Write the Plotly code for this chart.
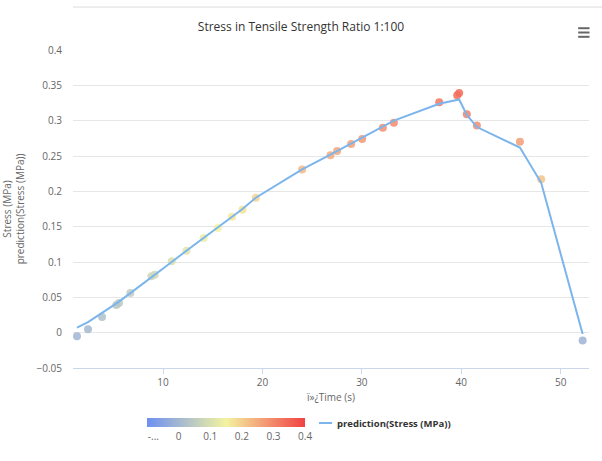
import plotly.graph_objects as go

time_s = [1.34, 2.45, 3.86, 5.30, 5.57, 6.71, 8.83, 9.16, 10.87, 12.35, 14.09, 15.50, 16.94, 17.99, 19.33,
          23.99, 26.84, 27.51, 28.92, 30.03, 32.11, 33.22, 37.78, 39.59, 39.79, 40.56, 41.57, 45.90, 48.04, 52.21]
stress = [-0.005, 0.005, 0.022, 0.039, 0.042, 0.056, 0.080, 0.082, 0.101, 0.116, 0.134, 0.148, 0.164, 0.174, 0.191,
          0.231, 0.251, 0.257, 0.267, 0.274, 0.290, 0.297, 0.326, 0.336, 0.339, 0.309, 0.293, 0.270, 0.217, -0.011]
prediction = [0.007, 0.015, 0.028, 0.041, 0.044, 0.056, 0.078, 0.082, 0.100, 0.116, 0.134, 0.149, 0.163, 0.175, 0.191,
              0.231, 0.252, 0.257, 0.267, 0.276, 0.291, 0.300, 0.324, 0.329, 0.330, 0.308, 0.291, 0.262, 0.212, -0.002]

cbar_tickvals = [-0.08, 0, 0.1, 0.2, 0.3, 0.4]
cbar_ticktext = ["-...", "0", "0.1", "0.2", "0.3", "0.4"]
y_ticks = [-0.05, 0, 0.05, 0.1, 0.15, 0.2, 0.25, 0.3, 0.35, 0.4]
x_ticks = [10, 20, 30, 40, 50]
line_name = "prediction(Stress (MPa))"

FONT = "Open Sans, Noto Sans, sans-serif"
LINE_COLOR = "#7cb5ec"
colorscale = [[0, "#6d8ff2"], [0.5, "#f3f3a0"], [0.8, "#f3876a"], [1, "#f04242"]]

fig = go.Figure()
fig.add_trace(go.Scatter(
    x=time_s, y=stress, mode="markers", name="Stress (MPa)", showlegend=False,
    marker=dict(size=8, color=stress, colorscale=colorscale, cmin=-0.1, cmax=0.4, opacity=0.85,
                line=dict(width=0),
                colorbar=dict(orientation="h", x=0.1436, xanchor="left", y=-0.157, yanchor="top",
                              lenmode="pixels", len=158, thickness=9, outlinewidth=0,
                              tickvals=cbar_tickvals, ticktext=cbar_ticktext, ticks="",
                              tickfont=dict(size=10, color="#666666", family=FONT),
                              ypad=0, xpad=0)),
))
fig.add_trace(go.Scatter(
    x=time_s, y=prediction, mode="lines", name=line_name, showlegend=False,
    line=dict(color=LINE_COLOR, width=2),
))

fig.update_layout(
    width=602, height=461,
    margin=dict(l=73, r=13, t=50, b=93),
    paper_bgcolor="white", plot_bgcolor="white",
    font=dict(family=FONT, color="#666666", size=10),
    title=dict(text="Stress in Tensile Strength Ratio 1:100", x=0.5, xanchor="center", y=0.942, yanchor="middle",
               font=dict(size=12, color="#333333", family=FONT)),
    xaxis=dict(range=[0.94, 52.85], tickvals=x_ticks, showgrid=False, zeroline=False, automargin=False,
               showline=True, linecolor="#ccd6eb", linewidth=1, ticks="outside", ticklen=5, tickcolor="#ccd6eb",
               tickfont=dict(size=10, color="#666666"),
               title=dict(text="ï»¿Time (s)", font=dict(size=10, color="#666666"), standoff=5)),
    yaxis=dict(range=[-0.05, 0.4], tickvals=y_ticks, showgrid=True, gridcolor="#e6e6e6", zeroline=False,
               automargin=False,
               tickfont=dict(size=10, color="#666666"), ticklabelstandoff=10,
               title=dict(text="Stress (MPa)<br>prediction(Stress (MPa))", font=dict(size=10, color="#666666"),
                          standoff=12)),
    showlegend=False,
    annotations=[
        dict(text="<b>" + line_name + "</b>", xref="paper", yref="paper", x=0.5078, y=-0.173,
             xanchor="left", yanchor="middle", showarrow=False,
             font=dict(size=9.5, color="#333333", family=FONT)),
    ],
    shapes=[
        dict(type="line", xref="paper", yref="paper", x0=0.4767, x1=0.502, y0=-0.173, y1=-0.173,
             line=dict(color=LINE_COLOR, width=2)),
        dict(type="line", xref="paper", yref="paper", x0=0, x1=1.03, y0=1.135, y1=1.135,
             line=dict(color="#dddddd", width=1)),
        dict(type="line", xref="paper", yref="paper", x0=0.979, x1=1.001, y0=1.0685, y1=1.0685,
             line=dict(color="#666666", width=2)),
        dict(type="line", xref="paper", yref="paper", x0=0.979, x1=1.001, y0=1.055, y1=1.055,
             line=dict(color="#666666", width=2)),
        dict(type="line", xref="paper", yref="paper", x0=0.979, x1=1.001, y0=1.0415, y1=1.0415,
             line=dict(color="#666666", width=2)),
    ],
)

fig.write_html("out.html")
